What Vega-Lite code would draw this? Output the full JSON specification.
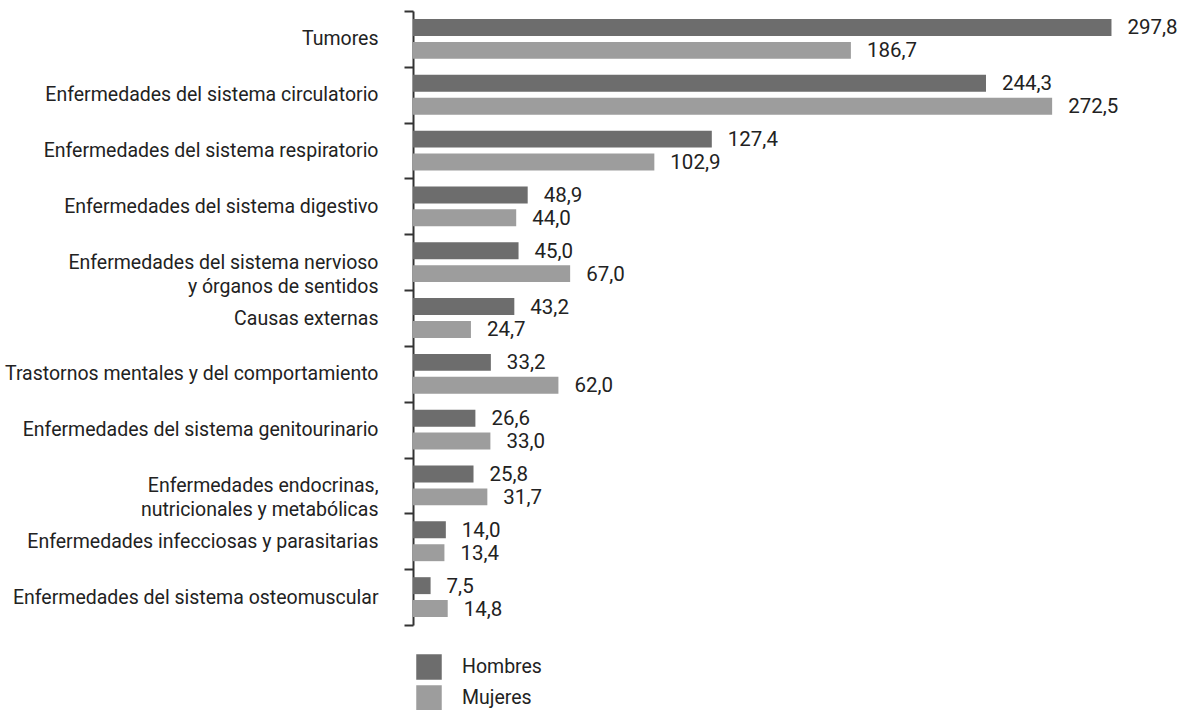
{
  "$schema": "https://vega.github.io/schema/vega-lite/v6.json",
  "autosize": "none",
  "width": 774,
  "height": 614,
  "padding": {"left": 413, "top": 11, "right": 3, "bottom": 85},
  "background": "white",
  "config": {
    "view": {"stroke": null},
    "locale": {"number": {"decimal": ",", "thousands": ".", "grouping": [3], "currency": ["", " €"]}},
    "font": "Roboto"
  },
  "data": {
    "values": [
      {"causa": "Tumores", "sexo": "Hombres", "valor": 297.8},
      {"causa": "Tumores", "sexo": "Mujeres", "valor": 186.7},
      {"causa": "Enfermedades del sistema circulatorio", "sexo": "Hombres", "valor": 244.3},
      {"causa": "Enfermedades del sistema circulatorio", "sexo": "Mujeres", "valor": 272.5},
      {"causa": "Enfermedades del sistema respiratorio", "sexo": "Hombres", "valor": 127.4},
      {"causa": "Enfermedades del sistema respiratorio", "sexo": "Mujeres", "valor": 102.9},
      {"causa": "Enfermedades del sistema digestivo", "sexo": "Hombres", "valor": 48.9},
      {"causa": "Enfermedades del sistema digestivo", "sexo": "Mujeres", "valor": 44.0},
      {"causa": "Enfermedades del sistema nervioso|y órganos de sentidos", "sexo": "Hombres", "valor": 45.0},
      {"causa": "Enfermedades del sistema nervioso|y órganos de sentidos", "sexo": "Mujeres", "valor": 67.0},
      {"causa": "Causas externas", "sexo": "Hombres", "valor": 43.2},
      {"causa": "Causas externas", "sexo": "Mujeres", "valor": 24.7},
      {"causa": "Trastornos mentales y del comportamiento", "sexo": "Hombres", "valor": 33.2},
      {"causa": "Trastornos mentales y del comportamiento", "sexo": "Mujeres", "valor": 62.0},
      {"causa": "Enfermedades del sistema genitourinario", "sexo": "Hombres", "valor": 26.6},
      {"causa": "Enfermedades del sistema genitourinario", "sexo": "Mujeres", "valor": 33.0},
      {"causa": "Enfermedades endocrinas,|nutricionales y metabólicas", "sexo": "Hombres", "valor": 25.8},
      {"causa": "Enfermedades endocrinas,|nutricionales y metabólicas", "sexo": "Mujeres", "valor": 31.7},
      {"causa": "Enfermedades infecciosas y parasitarias", "sexo": "Hombres", "valor": 14.0},
      {"causa": "Enfermedades infecciosas y parasitarias", "sexo": "Mujeres", "valor": 13.4},
      {"causa": "Enfermedades del sistema osteomuscular", "sexo": "Hombres", "valor": 7.5},
      {"causa": "Enfermedades del sistema osteomuscular", "sexo": "Mujeres", "valor": 14.8}
    ]
  },
  "encoding": {
    "y": {
      "field": "causa", "type": "nominal", "sort": null, "title": null,
      "scale": {"paddingInner": 0, "paddingOuter": 0},
      "axis": {
        "tickBand": "extent",
        "labelExpr": "split(datum.label, '|')",
        "labelFontSize": 19.5,
        "labelColor": "#222222",
        "labelPadding": 26,
        "labelLineHeight": 24,
        "labelBaseline": "middle",
        "labelLimit": 0,
        "tickSize": 9,
        "tickWidth": 2,
        "tickColor": "#333333",
        "domainColor": "#333333",
        "domainWidth": 2,
        "grid": false
      }
    },
    "yOffset": {
      "field": "sexo", "type": "nominal",
      "scale": {"paddingInner": 0.26, "paddingOuter": 0.35}
    },
    "x": {
      "field": "valor", "type": "quantitative",
      "scale": {"domain": [0, 330], "nice": false},
      "axis": null
    }
  },
  "layer": [
    {
      "mark": {"type": "bar"},
      "encoding": {
        "color": {
          "field": "sexo", "type": "nominal",
          "scale": {"domain": ["Hombres", "Mujeres"], "range": ["#6d6d6d", "#9d9d9d"]},
          "legend": {
            "title": null,
            "orient": "none",
            "legendX": 3,
            "legendY": 643,
            "symbolType": "square",
            "symbolSize": 650,
            "symbolStrokeWidth": 0,
            "symbolOpacity": 1,
            "labelFontSize": 19.5,
            "labelColor": "#222222",
            "labelOffset": 20,
            "rowPadding": 5
          }
        }
      }
    },
    {
      "mark": {"type": "text", "align": "left", "baseline": "middle", "dx": 16, "dy": 1, "fontSize": 20.5, "color": "#222222"},
      "encoding": {
        "text": {"field": "valor", "type": "quantitative", "format": ".1f"}
      }
    }
  ]
}
